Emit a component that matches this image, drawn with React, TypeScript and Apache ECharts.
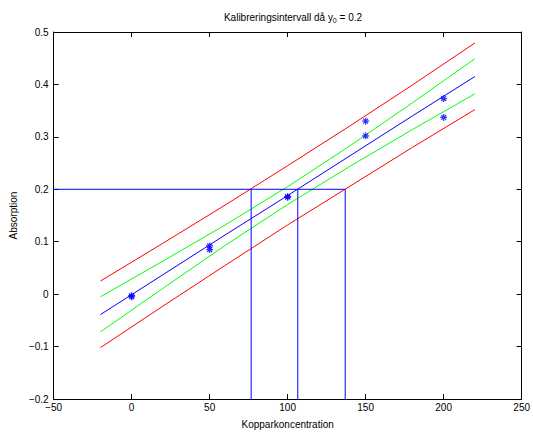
import React, { useEffect, useRef } from "react";
import * as echarts from "echarts";

// Sample positions along the fitted/interval curves
const sampleX = [-20, 20, 60, 100, 140, 180, 220];
const fitLine = [-0.039, 0.037, 0.113, 0.188, 0.264, 0.34, 0.415];
const upperPred = [0.025, 0.097, 0.17, 0.245, 0.321, 0.399, 0.479];
const lowerPred = [-0.102, -0.023, 0.055, 0.132, 0.206, 0.28, 0.352];
const upperConf = [-0.005, 0.063, 0.132, 0.205, 0.283, 0.365, 0.449];
const lowerConf = [-0.072, 0.011, 0.093, 0.171, 0.244, 0.314, 0.382];

// Measured points
const concX = [0, 0, 50, 50, 100, 100, 150, 150, 200, 200];
const absorb = [-0.003, -0.005, 0.092, 0.085, 0.186, 0.185, 0.33, 0.302, 0.373, 0.337];

// Calibration at y0
const y0 = 0.2;
const xLow = 76.6;
const xHat = 106.5;
const xHigh = 136.9;

const xMin = -50;
const xMax = 250;
const xStep = 50;
const yMin = -0.2;
const yMax = 0.5;
const yStep = 0.1;

const FONT = "'Liberation Sans', Arial, Helvetica, sans-serif";

const pair = (xs: number[], ys: number[]) => xs.map((x, i) => [x, ys[i]]);

const fmt = (v: number) => {
  const r = Math.round(v * 10) / 10;
  if (r === 0) return "0";
  const s = Number.isInteger(r) ? String(r) : String(r);
  return s.replace("-", "\u2212");
};

const asterisk =
  "path://M0,-10L0,10M-10,0L10,0M-7,-7L7,7M-7,7L7,-7";

export default function App() {
  const ref = useRef<HTMLDivElement>(null);
  useEffect(() => {
    if (!ref.current) return;
    const chart = echarts.init(ref.current, undefined, { renderer: "svg" });
    const lineS = (data: number[][], color: string) => ({
      type: "line",
      data,
      showSymbol: false,
      symbol: "none",
      lineStyle: { color, width: 1 },
      silent: true,
      z: 2,
    });
    const axisCommon = {
      axisLine: { show: true, onZero: false, lineStyle: { color: "#000", width: 1 } },
      axisTick: { show: true, inside: true, length: 5, lineStyle: { color: "#000" } },
      splitLine: { show: false },
    };
    chart.setOption({
      animation: false,
      backgroundColor: "#fff",
      textStyle: { fontFamily: FONT },
      title: {
        text: "Kalibreringsintervall då y{sub|0} = 0.2",
        left: 288,
        top: 6,
        textAlign: "center",
        textStyle: {
          fontFamily: FONT,
          fontSize: 10,
          fontWeight: "normal",
          color: "#000",
          rich: {
            sub: { fontSize: 7, fontFamily: FONT, color: "#000", padding: [6, 0, 0, 0], verticalAlign: "bottom" },
          },
        },
      },
      grid: { left: 51, right: 8, top: 32, bottom: 29, containLabel: false },
      xAxis: [
        {
          type: "value",
          min: xMin,
          max: xMax,
          interval: xStep,
          position: "bottom",
          name: "Kopparkoncentration",
          nameLocation: "middle",
          nameGap: 20,
          nameTextStyle: { fontFamily: FONT, fontSize: 10, color: "#000" },
          axisLabel: { fontFamily: FONT, fontSize: 10, color: "#000", margin: 3, formatter: (v: number) => fmt(v) },
          ...axisCommon,
        },
        {
          type: "value",
          min: xMin,
          max: xMax,
          interval: xStep,
          position: "top",
          axisLabel: { show: false },
          ...axisCommon,
        },
      ],
      yAxis: [
        {
          type: "value",
          min: yMin,
          max: yMax,
          interval: yStep,
          position: "left",
          name: "Absorption",
          nameLocation: "middle",
          nameGap: 32,
          nameTextStyle: { fontFamily: FONT, fontSize: 10, color: "#000" },
          axisLabel: { fontFamily: FONT, fontSize: 10, color: "#000", margin: 5, formatter: (v: number) => fmt(v) },
          ...axisCommon,
        },
        {
          type: "value",
          min: yMin,
          max: yMax,
          interval: yStep,
          position: "right",
          axisLabel: { show: false },
          ...axisCommon,
        },
      ],
      series: [
        lineS(pair(sampleX, upperPred), "#ff0000"),
        lineS(pair(sampleX, lowerPred), "#ff0000"),
        lineS(pair(sampleX, upperConf), "#00ff00"),
        lineS(pair(sampleX, lowerConf), "#00ff00"),
        lineS(pair(sampleX, fitLine), "#0000ff"),
        lineS([[xMin, y0], [xHigh, y0]], "#0000ff"),
        lineS([[xLow, y0], [xLow, yMin]], "#0000ff"),
        lineS([[xHat, y0], [xHat, yMin]], "#0000ff"),
        lineS([[xHigh, y0], [xHigh, yMin]], "#0000ff"),
        {
          type: "scatter",
          data: pair(concX, absorb),
          symbol: asterisk,
          symbolSize: 7,
          itemStyle: { color: "none", borderColor: "#0000ff", borderWidth: 1.2 },
          z: 3,
        },
      ],
    });
    return () => chart.dispose();
  }, []);
  return (
    <div
      ref={ref}
      style={{ position: "absolute", left: 0, top: 0, width: 533, height: 434 }}
    />
  );
}
